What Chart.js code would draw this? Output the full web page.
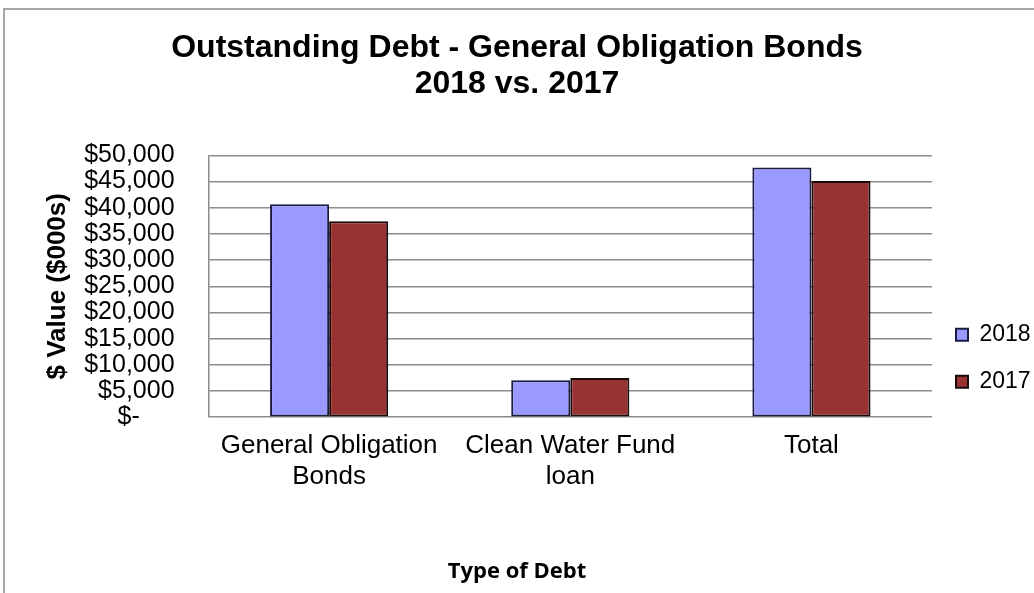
<!DOCTYPE html>
<html>
<head>
<meta charset="utf-8">
<title>Outstanding Debt</title>
<script src="https://cdn.jsdelivr.net/npm/chart.js@4"></script>
<style>
  html, body { margin: 0; padding: 0; background: #fff; }
  #wrap { position: relative; width: 1034px; height: 593px; overflow: hidden; }
  #frame {
    position: absolute; left: 3px; top: 8px; width: 1100px; height: 700px;
    border: 2px solid #a6a6a6; box-sizing: border-box; pointer-events: none;
  }
</style>
</head>
<body>
<div id="wrap">
  <canvas id="chart-debt"></canvas>
  <div id="frame"></div>
</div>
<script>
'use strict';

// values in $000s
const categories = [['General Obligation', 'Bonds'], ['Clean Water Fund', 'loan'], 'Total'];
const seriesNames = ['2018', '2017'];
const values2018 = [40650, 7050, 47700];
const values2017 = [37400, 7500, 45100];
const yMin = 0;
const yMax = 50000;
const yStep = 5000;

const FONT = "'Liberation Sans', Arial, sans-serif";
Chart.defaults.font.family = FONT;
Chart.defaults.color = '#000';

const GRID = '#8c8c8c';
const NBSP = '\u00a0';

function moneyTick(v) {
    // Excel accounting format shows zero as a dash
    if (v === 0) return '$-' + NBSP.repeat(5);
    return '$' + v.toLocaleString('en-US');
}

const canvas = document.getElementById('chart-debt');

new Chart(canvas.getContext('2d'), {
    type: 'bar',
    data: {
        labels: categories,
        datasets: [{
            label: seriesNames[0],
            data: values2018,
            backgroundColor: '#9999ff',
            borderColor: '#1c1c40',
            borderWidth: 2,
            borderSkipped: false
        }, {
            label: seriesNames[1],
            data: values2017,
            backgroundColor: '#993333',
            borderColor: '#1a0a0a',
            borderWidth: 2,
            borderSkipped: false
        }]
    },
    options: {
        responsive: true,
        maintainAspectRatio: false,
        animation: false,
        layout: {padding: 0},
        datasets: {bar: {barPercentage: 1, categoryPercentage: 0.49}},
        plugins: {
            title: {
                display: true,
                text: ['Outstanding Debt - General Obligation Bonds', '2018 vs. 2017'],
                font: {size: 32, weight: 'bold', lineHeight: 1.1},
                padding: {top: 31, bottom: 54}
            },
            subtitle: {
                display: true,
                position: 'bottom',
                text: 'Type of Debt',
                font: {family: "'Open Sans', sans-serif", size: 22, weight: 'bold', lineHeight: 1.2},
                padding: {top: 53, bottom: 8}
            },
            legend: {
                position: 'right',
                align: 'end',
                fullSize: false,
                maxWidth: 102,
                labels: {
                    boxWidth: 12,
                    boxHeight: 12,
                    padding: 24,
                    font: {size: 23}
                }
            },
            tooltip: {enabled: false}
        },
        scales: {
            x: {
                grid: {display: false, drawTicks: false},
                border: {display: false},
                ticks: {
                    padding: 13,
                    maxRotation: 0,
                    autoSkip: false,
                    font: {size: 26, lineHeight: 1.2}
                }
            },
            y: {
                min: yMin,
                max: yMax,
                grid: {color: GRID, lineWidth: 1.5, drawTicks: true, tickLength: 26, tickColor: 'transparent'},
                border: {display: true, color: GRID, width: 1.5},
                ticks: {
                    stepSize: yStep,
                    autoSkip: false,
                    padding: 8,
                    font: {size: 25},
                    callback: moneyTick
                },
                title: {
                    display: true,
                    text: '$ Value ($000s)',
                    font: {size: 26, weight: 'bold', lineHeight: 1.2},
                    padding: {top: 42, bottom: 3}
                }
            }
        }
    }
});
</script>
</body>
</html>
